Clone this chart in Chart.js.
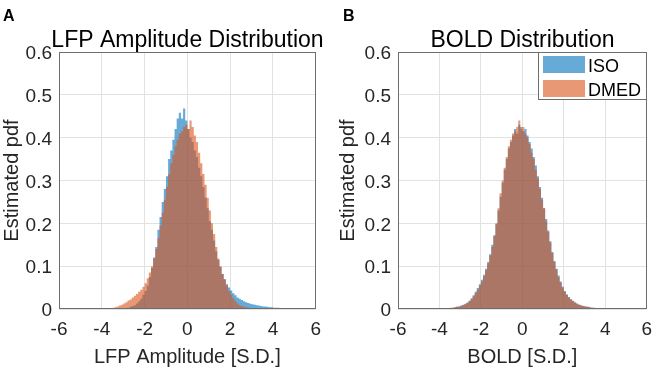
<!DOCTYPE html>
<html>
<head>
<meta charset="utf-8">
<script src="https://cdn.jsdelivr.net/npm/chart.js@4/dist/chart.umd.min.js"></script>
<style>
  body { margin: 0; background: #fff; }
  .panel { position: absolute; top: 0; }
</style>
</head>
<body>
<canvas id="panel-a" class="panel" width="330" height="369" style="left:0"></canvas>
<canvas id="panel-b" class="panel" width="331" height="369" style="left:330px"></canvas>
<script>
// bin centres (bin width 0.1 S.D.)
const binCenters = [
    -3.95, -3.85, -3.75, -3.65, -3.55, -3.45, -3.35, -3.25, -3.15, -3.05,
    -2.95, -2.85, -2.75, -2.65, -2.55, -2.45, -2.35, -2.25, -2.15, -2.05,
    -1.95, -1.85, -1.75, -1.65, -1.55, -1.45, -1.35, -1.25, -1.15, -1.05,
    -0.95, -0.85, -0.75, -0.65, -0.55, -0.45, -0.35, -0.25, -0.15, -0.05,
    0.05, 0.15, 0.25, 0.35, 0.45, 0.55, 0.65, 0.75, 0.85, 0.95,
    1.05, 1.15, 1.25, 1.35, 1.45, 1.55, 1.65, 1.75, 1.85, 1.95,
    2.05, 2.15, 2.25, 2.35, 2.45, 2.55, 2.65, 2.75, 2.85, 2.95,
    3.05, 3.15, 3.25, 3.35, 3.45, 3.55, 3.65, 3.75, 3.85, 3.95,
    4.05, 4.15, 4.25, 4.35, 4.45, 4.55, 4.65, 4.75, 4.85, 4.95
]

// A - LFP amplitude
const lfpIso = [
    0, 0, 0, 0, 0, 0, 0, 0.001, 0.001, 0.001,
    0.002, 0.002, 0.003, 0.005, 0.007, 0.009, 0.013, 0.018, 0.024, 0.033,
    0.042, 0.055, 0.075, 0.096, 0.12, 0.145, 0.185, 0.215, 0.25, 0.28,
    0.31, 0.35, 0.37, 0.395, 0.42, 0.445, 0.458, 0.445, 0.468, 0.44,
    0.42, 0.40, 0.39, 0.37, 0.355, 0.33, 0.31, 0.285, 0.26, 0.235,
    0.205, 0.185, 0.16, 0.135, 0.115, 0.098, 0.082, 0.07, 0.058, 0.05,
    0.043, 0.037, 0.032, 0.027, 0.024, 0.021, 0.018, 0.016, 0.014, 0.012,
    0.011, 0.01, 0.009, 0.008, 0.007, 0.006, 0.006, 0.005, 0.004, 0.004,
    0.003, 0.003, 0.003, 0.002, 0.002, 0.002, 0.001, 0.001, 0.001, 0
]
const lfpDmed = [
    0, 0, 0.001, 0.001, 0.002, 0.003, 0.004, 0.006, 0.008, 0.01,
    0.013, 0.016, 0.02, 0.022, 0.027, 0.031, 0.035, 0.04, 0.045, 0.052,
    0.06, 0.072, 0.085, 0.1, 0.118, 0.14, 0.165, 0.195, 0.225, 0.255,
    0.285, 0.315, 0.34, 0.36, 0.38, 0.395, 0.41, 0.415, 0.425, 0.43,
    0.42, 0.44, 0.425, 0.405, 0.39, 0.365, 0.34, 0.315, 0.29, 0.26,
    0.23, 0.2, 0.175, 0.145, 0.118, 0.1, 0.082, 0.068, 0.055, 0.042,
    0.033, 0.025, 0.018, 0.013, 0.009, 0.007, 0.005, 0.004, 0.003, 0.002,
    0.002, 0.001, 0.001, 0.001, 0, 0, 0, 0, 0, 0,
    0, 0, 0, 0, 0, 0, 0, 0, 0, 0
]

// B - BOLD
const boldIso = [
    0.001, 0.001, 0.001, 0.001, 0.002, 0.002, 0.003, 0.004, 0.005, 0.006,
    0.008, 0.01, 0.012, 0.015, 0.019, 0.025, 0.032, 0.04, 0.049, 0.058,
    0.068, 0.08, 0.094, 0.11, 0.128, 0.15, 0.172, 0.198, 0.23, 0.262,
    0.295, 0.325, 0.35, 0.375, 0.39, 0.405, 0.42, 0.41, 0.43, 0.425,
    0.415, 0.42, 0.405, 0.39, 0.375, 0.355, 0.335, 0.31, 0.285, 0.26,
    0.235, 0.21, 0.183, 0.158, 0.133, 0.112, 0.094, 0.078, 0.064, 0.052,
    0.042, 0.034, 0.028, 0.023, 0.019, 0.015, 0.012, 0.01, 0.008, 0.007,
    0.006, 0.005, 0.004, 0.003, 0.003, 0.002, 0.002, 0.002, 0.001, 0.001,
    0.001, 0.001, 0.001, 0, 0, 0, 0, 0, 0, 0
]
const boldDmed = [
    0.001, 0.001, 0.001, 0.002, 0.002, 0.003, 0.003, 0.004, 0.005, 0.006,
    0.007, 0.009, 0.011, 0.014, 0.018, 0.023, 0.03, 0.037, 0.045, 0.054,
    0.064, 0.076, 0.09, 0.106, 0.125, 0.145, 0.17, 0.2, 0.235, 0.27,
    0.30, 0.33, 0.355, 0.38, 0.395, 0.41, 0.415, 0.425, 0.44, 0.42,
    0.425, 0.41, 0.40, 0.385, 0.365, 0.35, 0.325, 0.305, 0.28, 0.255,
    0.235, 0.205, 0.18, 0.155, 0.13, 0.11, 0.092, 0.075, 0.062, 0.05,
    0.04, 0.033, 0.027, 0.022, 0.018, 0.015, 0.012, 0.01, 0.008, 0.007,
    0.006, 0.005, 0.004, 0.003, 0.003, 0.002, 0.002, 0.002, 0.001, 0.001,
    0.001, 0.001, 0, 0, 0, 0, 0, 0, 0, 0
]

const xTicks = [-6, -4, -2, 0, 2, 4, 6]
const yTicks = [0, 0.1, 0.2, 0.3, 0.4, 0.5, 0.6]
const seriesNames = ['ISO', 'DMED']

const FONT = '"Liberation Sans", Arial, Helvetica, sans-serif'
const corIso = 'rgba(0, 114, 189, 0.6)'
const corDmed = 'rgba(217, 83, 25, 0.6)'

// frame, title, panel letter and legend box drawn on top of the chart area
const panelDecor = {
    id: 'panelDecor',
    afterDraw(chart, args, opts) {
        const { ctx, chartArea: a } = chart
        const l = Math.round(a.left), t = Math.round(a.top)
        const r = Math.round(a.right), b = Math.round(a.bottom)
        ctx.save()
        ctx.strokeStyle = '#6e6e6e'
        ctx.lineWidth = 1
        ctx.strokeRect(l + 0.5, t + 0.5, r - l - 1, b - t - 1)

        ctx.fillStyle = '#000'
        ctx.textBaseline = 'alphabetic'
        ctx.textAlign = 'center'
        ctx.font = `23px ${FONT}`
        ctx.fillText(opts.title, (l + r) / 2, 47)

        ctx.textAlign = 'left'
        ctx.font = `bold 16px ${FONT}`
        ctx.fillText(opts.letter, opts.letterX, 21)

        if (opts.legend) {
            const bx = r - 109, by = t
            ctx.fillStyle = '#fff'
            ctx.fillRect(bx, by, 109, 48)
            ctx.strokeRect(bx + 0.5, by + 0.5, 108, 47)
            ctx.font = `18px ${FONT}`
            chart.data.datasets.forEach((ds, i) => {
                const py = by + 4 + i * 24
                ctx.fillStyle = ds.backgroundColor
                ctx.fillRect(bx + 5, py, 42, 17)
                ctx.fillStyle = '#000'
                ctx.fillText(ds.label, bx + 50, py + 16)
            })
        }
        ctx.restore()
    }
}

function montarGrafico(canvasId, iso, dmed, cfg) {
    const toPoints = valores => binCenters.map((x, i) => ({ x: x, y: valores[i] }))
    return new Chart(document.getElementById(canvasId), {
        type: 'line',
        data: {
            datasets: [
                { label: seriesNames[0], data: toPoints(iso), backgroundColor: corIso, order: 2 },
                { label: seriesNames[1], data: toPoints(dmed), backgroundColor: corDmed, order: 1 }
            ].map(ds => Object.assign(ds, {
                stepped: 'middle',
                fill: 'origin',
                borderWidth: 0,
                borderColor: 'rgba(0,0,0,0)',
                pointRadius: 0
            }))
        },
        options: {
            responsive: false,
            animation: false,
            devicePixelRatio: 1,
            layout: { padding: { left: cfg.padLeft, right: cfg.padRight, top: 52, bottom: 0 } },
            scales: {
                x: {
                    type: 'linear',
                    min: xTicks[0],
                    max: xTicks[xTicks.length - 1],
                    afterBuildTicks: scale => { scale.ticks = xTicks.map(v => ({ value: v })) },
                    afterFit: scale => { scale.height = 60 },
                    grid: { color: '#e2e2e2', drawTicks: false },
                    border: { display: false },
                    ticks: { color: '#262626', padding: 9, font: { family: FONT, size: 19 } },
                    title: {
                        display: true,
                        text: cfg.xTitle,
                        color: '#262626',
                        padding: { top: 0, bottom: 0 },
                        font: { family: FONT, size: 20 }
                    }
                },
                y: {
                    min: yTicks[0],
                    max: yTicks[yTicks.length - 1],
                    afterBuildTicks: scale => { scale.ticks = yTicks.map(v => ({ value: v })) },
                    afterFit: scale => { scale.width = cfg.yWidth },
                    grid: { color: '#e2e2e2', drawTicks: false },
                    border: { display: false },
                    ticks: { color: '#262626', padding: 7, labelOffset: 2, font: { family: FONT, size: 19 } },
                    title: {
                        display: true,
                        text: 'Estimated pdf',
                        color: '#262626',
                        padding: { top: 0, bottom: 0 },
                        font: { family: FONT, size: 20 }
                    }
                }
            },
            plugins: {
                legend: { display: false },
                tooltip: { enabled: false },
                panelDecor: cfg.decor
            }
        },
        plugins: [panelDecor]
    })
}

montarGrafico('panel-a', lfpIso, lfpDmed, {
    padLeft: 0, padRight: 14, yWidth: 59,
    xTitle: 'LFP Amplitude [S.D.]',
    decor: { title: 'LFP Amplitude Distribution', letter: 'A', letterX: 3, legend: false }
})

montarGrafico('panel-b', boldIso, boldDmed, {
    padLeft: 6, padRight: 7, yWidth: 62,
    xTitle: 'BOLD [S.D.]',
    decor: { title: 'BOLD Distribution', letter: 'B', letterX: 13, legend: true }
})
</script>
</body>
</html>
